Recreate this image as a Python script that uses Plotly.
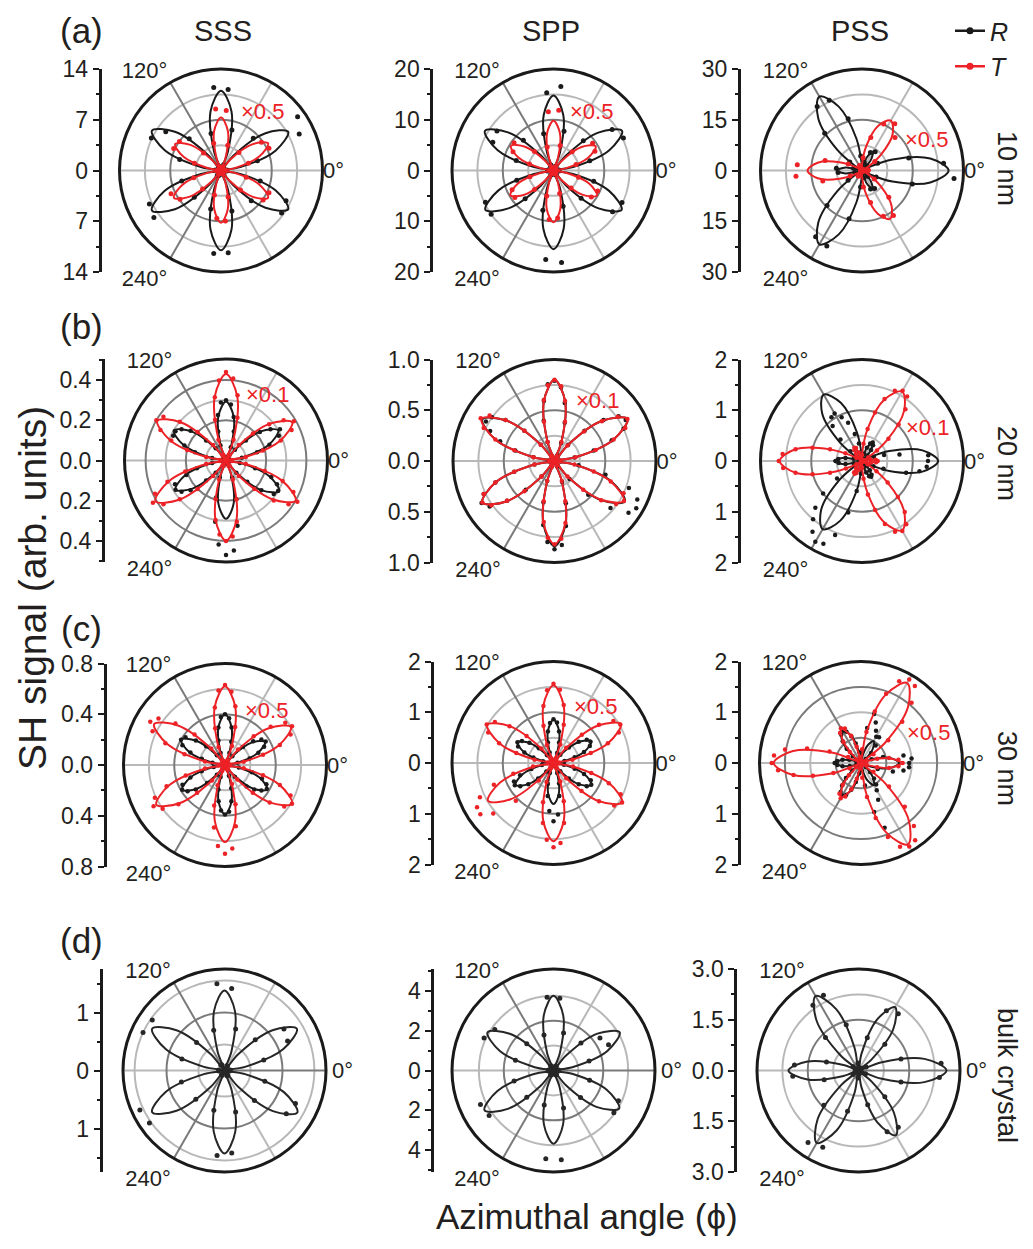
import plotly.graph_objects as go

W, H = 1033, 1249          # browser window / reference size
OX, OY = 8, 8              # default page margin around the plot div
FW, FH = W - 2 * OX, H - 2 * OY
RPX = 101.5
FONT = "Liberation Sans, Arial, Helvetica, sans-serif"
INK = "#231f20"
RED = "#ec2227"
BLACK = "#1a1a1a"
LIGHT = "#b8b8b8"
DARK = "#7a7a7a"

# ---------------- angle grids (deg) ----------------
fit_theta = list(range(0, 360, 10))
sparse_theta = list(range(5, 360, 10))
dense_theta = list(range(0, 360, 5))

# ---------------- (a) 10 nm ----------------
sss10_R_fit = [0, 2.7, 8.0, 10.7, 8.0, 2.7, 0, 2.8, 8.3, 11.0, 8.3, 2.8,
               0, 2.8, 8.3, 11.0, 8.3, 2.8, 0, 2.8, 8.3, 11.0, 8.3, 2.8,
               0, 2.8, 8.3, 11.0, 8.3, 2.8, 0, 2.7, 8.0, 10.7, 8.0, 2.7]
sss10_R_dots = [0.8, 5.2, 11.9, 12.9, 6.3, 0.6, 0.9, 5.8, 11.2, 11.5, 5.3, 0.7,
                0.6, 6.2, 9.3, 10.6, 5.9, 0.8, 0.7, 5.6, 10.9, 11.3, 5.2, 0.9,
                0.8, 5.5, 11.5, 11.4, 5.8, 0.6, 0.7, 5.9, 10.2, 9.9, 5.6, 0.8]
sss10_T_fit = [0, 1.9, 5.6, 7.5, 5.6, 1.9, 0, 1.8, 5.5, 7.3, 5.5, 1.8,
               0, 1.8, 5.5, 7.3, 5.5, 1.8, 0, 1.9, 5.6, 7.5, 5.6, 1.9,
               0, 1.8, 5.4, 7.2, 5.4, 1.8, 0, 1.9, 5.6, 7.5, 5.6, 1.9]
sss10_T_dots = [0.6, 3.9, 7.3, 6.8, 3.5, 0.4, 0.5, 3.6, 8.3, 8.5, 3.9, 0.6,
                0.4, 3.4, 7.0, 7.2, 3.8, 0.5, 0.6, 3.9, 7.6, 6.9, 3.6, 0.5,
                0.5, 3.5, 6.6, 7.0, 3.8, 0.4, 0.5, 3.8, 7.1, 7.3, 3.6, 0.6]

spp10_R_fit = [0, 3.9, 11.7, 15.6, 11.7, 3.9, 0, 3.7, 11.1, 14.8, 11.1, 3.7,
               0, 3.9, 11.7, 15.6, 11.7, 3.9, 0, 3.9, 11.6, 15.5, 11.6, 3.9,
               0, 3.9, 11.6, 15.5, 11.6, 3.9, 0, 3.9, 11.6, 15.5, 11.6, 3.9]
spp10_R_dots = [1.1, 7.4, 15.2, 14.1, 8.3, 0.9, 0.9, 8.0, 16.6, 15.4, 7.5, 1.2,
                1.0, 8.4, 13.6, 13.2, 7.6, 1.1, 1.2, 7.5, 14.8, 15.0, 7.9, 0.9,
                0.9, 8.1, 17.6, 18.2, 7.3, 1.0, 1.0, 7.7, 14.2, 14.9, 8.2, 1.1]
spp10_T_fit = [0, 2.4, 7.2, 9.6, 7.2, 2.4, 0, 2.5, 7.4, 9.8, 7.4, 2.5,
               0, 2.4, 7.3, 9.7, 7.3, 2.4, 0, 2.5, 7.4, 9.8, 7.4, 2.5,
               0, 2.6, 7.7, 10.2, 7.7, 2.6, 0, 2.5, 7.4, 9.9, 7.4, 2.5]
spp10_T_dots = [0.6, 4.6, 9.0, 9.4, 5.2, 0.7, 0.7, 5.1, 11.9, 11.6, 4.8, 0.6,
                0.6, 5.3, 9.5, 8.8, 4.9, 0.7, 0.7, 4.8, 9.0, 9.3, 5.3, 0.6,
                0.6, 5.2, 9.7, 9.4, 4.7, 0.7, 0.7, 4.9, 9.1, 9.6, 5.1, 0.6]

pss10_R_fit = [25.6, 20.5, 9.6, 1.4, 0.5, 4.1, 6.4, 4.1, 0.5, 1.4, 9.6, 20.1,
               25.2, 20.1, 9.6, 1.4, 0.5, 4.9, 7.5, 4.9, 0.5, 1.4, 9.6, 20.1,
               25.2, 20.1, 9.6, 1.4, 0.5, 4.0, 6.2, 4.0, 0.5, 1.4, 9.6, 20.5]
pss10_R_dots = [24.2, 14.3, 5.1, 0.1, 2.0, 6.8, 5.9, 2.5, 0.1, 4.3, 15.8, 22.9,
                23.1, 15.6, 4.4, 0.1, 2.6, 7.6, 7.1, 2.2, 0.1, 5.0, 14.6, 23.9,
                24.6, 14.8, 4.9, 0.1, 2.2, 6.0, 6.5, 2.4, 0.1, 4.6, 15.4, 27.3]
pss10_T_fit = [2.0, 1.1, 0.0, 1.7, 7.4, 14.1, 17.0, 14.1, 7.4, 1.7, 0.0, 1.1,
               2.0, 1.1, 0.0, 1.7, 7.1, 13.3, 16.1, 13.3, 7.1, 1.7, 0.0, 1.1,
               2.0, 1.1, 0.0, 1.7, 7.2, 13.6, 16.5, 13.6, 7.2, 1.7, 0.0, 1.1]
pss10_T_dots = [1.9, 0.5, 0.6, 4.6, 13.8, 16.9, 15.2, 10.1, 3.8, 0.5, 0.4, 1.6,
                1.5, 0.4, 0.5, 4.5, 11.3, 19.2, 19.6, 12.0, 3.9, 0.4, 0.5, 2.0,
                1.8, 0.3, 0.4, 4.9, 9.8, 14.9, 16.2, 11.2, 4.4, 0.6, 0.3, 1.7]

# ---------------- (b) 20 nm ----------------
sss20_R_fit = [0, 0.075, 0.225, 0.30, 0.225, 0.075, 0, 0.074, 0.221, 0.294, 0.221, 0.074,
               0, 0.075, 0.225, 0.30, 0.225, 0.075, 0, 0.073, 0.218, 0.29, 0.218, 0.073,
               0, 0.073, 0.218, 0.29, 0.218, 0.073, 0, 0.076, 0.229, 0.305, 0.229, 0.076]
sss20_R_dots = [0.00, 0.02, 0.08, 0.16, 0.23, 0.29, 0.31, 0.27, 0.22, 0.14, 0.07, 0.02,
                0.00, 0.02, 0.07, 0.15, 0.22, 0.28, 0.30, 0.29, 0.23, 0.15, 0.08, 0.02,
                0.00, 0.02, 0.08, 0.14, 0.23, 0.27, 0.29, 0.29, 0.22, 0.16, 0.07, 0.02,
                0.00, 0.02, 0.07, 0.15, 0.21, 0.28, 0.29, 0.27, 0.23, 0.14, 0.08, 0.02,
                0.00, 0.03, 0.09, 0.19, 0.31, 0.42, 0.47, 0.45, 0.33, 0.20, 0.09, 0.02,
                0.00, 0.02, 0.08, 0.15, 0.23, 0.29, 0.30, 0.28, 0.24, 0.15, 0.07, 0.02]
sss20_T_fit = [0, 0.095, 0.285, 0.38, 0.285, 0.095, 0, 0.108, 0.323, 0.43, 0.323, 0.108,
               0, 0.099, 0.296, 0.395, 0.296, 0.099, 0, 0.101, 0.304, 0.405, 0.304, 0.101,
               0, 0.10, 0.30, 0.40, 0.30, 0.10, 0, 0.10, 0.30, 0.40, 0.30, 0.10]
sss20_T_dots = [0.00, 0.03, 0.10, 0.19, 0.29, 0.36, 0.39, 0.35, 0.28, 0.19, 0.10, 0.03,
                0.00, 0.03, 0.11, 0.22, 0.33, 0.41, 0.44, 0.40, 0.32, 0.21, 0.11, 0.03,
                0.00, 0.03, 0.10, 0.20, 0.30, 0.38, 0.40, 0.36, 0.29, 0.20, 0.10, 0.03,
                0.00, 0.03, 0.10, 0.21, 0.31, 0.39, 0.42, 0.38, 0.30, 0.20, 0.10, 0.03,
                0.00, 0.03, 0.10, 0.20, 0.30, 0.37, 0.40, 0.38, 0.31, 0.20, 0.10, 0.03,
                0.00, 0.03, 0.10, 0.20, 0.31, 0.38, 0.41, 0.37, 0.30, 0.20, 0.10, 0.03]

spp20_R_fit = [0, 0.21, 0.62, 0.83, 0.62, 0.21, 0, 0.20, 0.60, 0.80, 0.60, 0.20,
               0, 0.21, 0.62, 0.82, 0.62, 0.21, 0, 0.21, 0.62, 0.82, 0.62, 0.21,
               0, 0.21, 0.63, 0.84, 0.63, 0.21, 0, 0.20, 0.60, 0.80, 0.60, 0.20]
spp20_R_dots = [0.00, 0.05, 0.20, 0.40, 0.60, 0.75, 0.81, 0.77, 0.63, 0.42, 0.21, 0.06,
                0.00, 0.06, 0.19, 0.39, 0.58, 0.73, 0.79, 0.76, 0.60, 0.41, 0.20, 0.05,
                0.00, 0.05, 0.21, 0.42, 0.63, 0.75, 0.78, 0.70, 0.57, 0.40, 0.21, 0.06,
                0.00, 0.05, 0.20, 0.41, 0.62, 0.77, 0.83, 0.78, 0.61, 0.40, 0.20, 0.05,
                0.00, 0.06, 0.21, 0.42, 0.64, 0.80, 0.87, 0.83, 0.65, 0.43, 0.22, 0.06,
                0.00, 0.06, 0.23, 0.47, 0.72, 0.89, 0.93, 0.90, 0.78, 0.52, 0.24, 0.06]
spp20_T_fit = [0, 0.21, 0.62, 0.83, 0.62, 0.21, 0, 0.20, 0.60, 0.80, 0.60, 0.20,
               0, 0.21, 0.62, 0.83, 0.62, 0.21, 0, 0.21, 0.62, 0.82, 0.62, 0.21,
               0, 0.21, 0.62, 0.82, 0.62, 0.21, 0, 0.20, 0.59, 0.79, 0.59, 0.20]
spp20_T_dots = [0.00, 0.06, 0.21, 0.42, 0.62, 0.77, 0.83, 0.76, 0.61, 0.41, 0.20, 0.05,
                0.00, 0.05, 0.20, 0.40, 0.60, 0.74, 0.80, 0.75, 0.61, 0.40, 0.20, 0.06,
                0.00, 0.06, 0.21, 0.42, 0.63, 0.78, 0.84, 0.77, 0.62, 0.41, 0.21, 0.05,
                0.00, 0.05, 0.20, 0.41, 0.62, 0.77, 0.82, 0.76, 0.61, 0.42, 0.20, 0.05,
                0.00, 0.06, 0.21, 0.41, 0.61, 0.76, 0.82, 0.77, 0.62, 0.41, 0.21, 0.05,
                0.00, 0.05, 0.20, 0.40, 0.60, 0.74, 0.79, 0.75, 0.59, 0.40, 0.20, 0.05]

pss20_R_fit = [1.50, 1.21, 0.57, 0.08, 0.04, 0.27, 0.41, 0.27, 0.04, 0.08, 0.57, 1.22,
               1.51, 1.22, 0.57, 0.08, 0.04, 0.36, 0.55, 0.36, 0.04, 0.08, 0.58, 1.25,
               1.55, 1.25, 0.58, 0.08, 0.04, 0.24, 0.36, 0.24, 0.04, 0.08, 0.57, 1.21]
pss20_R_dots = [1.30, 1.31, 0.75, 0.45, 0.25, 0.10, 0.03, 0.02, 0.05, 0.15, 0.28, 0.38,
                0.42, 0.38, 0.28, 0.15, 0.04, 0.01, 0.06, 0.18, 0.35, 0.55, 0.80, 0.95,
                1.08, 1.05, 0.90, 0.60, 0.30, 0.12, 0.04, 0.01, 0.05, 0.17, 0.33, 0.47,
                0.52, 0.46, 0.33, 0.17, 0.05, 0.02, 0.12, 0.60, 1.00, 1.30, 1.50, 1.70,
                1.84, 1.80, 1.55, 1.05, 0.60, 0.25, 0.05, 0.01, 0.05, 0.13, 0.24, 0.33,
                0.36, 0.33, 0.24, 0.13, 0.04, 0.01, 0.08, 0.25, 0.45, 0.90, 1.15, 1.28]
pss20_T_fit = [0.30, 0.18, 0.01, 0.13, 0.65, 1.29, 1.58, 1.29, 0.65, 0.13, 0.01, 0.18,
               0.30, 0.18, 0.01, 0.13, 0.67, 1.33, 1.62, 1.33, 0.67, 0.13, 0.01, 0.18,
               0.30, 0.18, 0.01, 0.13, 0.65, 1.29, 1.58, 1.29, 0.65, 0.13, 0.01, 0.18]
pss20_T_dots = [0.31, 0.27, 0.17, 0.08, 0.02, 0.03, 0.14, 0.36, 0.68, 1.02, 1.33, 1.55,
                1.60, 1.53, 1.30, 0.99, 0.64, 0.34, 0.12, 0.02, 0.01, 0.07, 0.18, 0.28,
                0.30, 0.26, 0.18, 0.09, 0.01, 0.02, 0.13, 0.36, 0.67, 1.01, 1.33, 1.57,
                1.64, 1.56, 1.33, 1.01, 0.67, 0.35, 0.13, 0.02, 0.01, 0.08, 0.18, 0.27,
                0.29, 0.26, 0.19, 0.08, 0.01, 0.02, 0.13, 0.35, 0.67, 1.00, 1.32, 1.54,
                1.59, 1.52, 1.31, 1.00, 0.66, 0.35, 0.13, 0.02, 0.01, 0.08, 0.18, 0.28]

# ---------------- (c) 30 nm ----------------
sss30_R_fit = [0, 0.091, 0.274, 0.365, 0.274, 0.091, 0, 0.10, 0.30, 0.40, 0.30, 0.10,
               0, 0.10, 0.30, 0.40, 0.30, 0.10, 0, 0.098, 0.293, 0.39, 0.293, 0.098,
               0, 0.098, 0.293, 0.39, 0.293, 0.098, 0, 0.096, 0.289, 0.385, 0.289, 0.096]
sss30_R_dots = [0.00, 0.03, 0.10, 0.20, 0.28, 0.34, 0.37, 0.35, 0.29, 0.20, 0.09, 0.03,
                0.00, 0.02, 0.10, 0.19, 0.30, 0.37, 0.40, 0.38, 0.30, 0.20, 0.10, 0.03,
                0.00, 0.03, 0.10, 0.21, 0.30, 0.38, 0.40, 0.37, 0.29, 0.19, 0.10, 0.02,
                0.00, 0.03, 0.09, 0.19, 0.29, 0.37, 0.39, 0.36, 0.30, 0.20, 0.10, 0.03,
                0.00, 0.02, 0.10, 0.20, 0.29, 0.36, 0.39, 0.37, 0.29, 0.19, 0.09, 0.02,
                0.00, 0.03, 0.12, 0.24, 0.30, 0.35, 0.38, 0.36, 0.31, 0.22, 0.11, 0.03]
sss30_T_fit = [0, 0.15, 0.45, 0.60, 0.45, 0.15, 0, 0.155, 0.465, 0.62, 0.465, 0.155,
               0, 0.161, 0.484, 0.645, 0.484, 0.161, 0, 0.156, 0.469, 0.625, 0.469, 0.156,
               0, 0.152, 0.455, 0.607, 0.455, 0.152, 0, 0.153, 0.458, 0.61, 0.458, 0.153]
sss30_T_dots = [0.00, 0.04, 0.15, 0.31, 0.46, 0.57, 0.61, 0.58, 0.47, 0.32, 0.16, 0.04,
                0.00, 0.04, 0.16, 0.31, 0.47, 0.58, 0.63, 0.59, 0.46, 0.30, 0.15, 0.04,
                0.00, 0.04, 0.17, 0.34, 0.51, 0.64, 0.68, 0.63, 0.50, 0.33, 0.16, 0.04,
                0.00, 0.05, 0.16, 0.32, 0.49, 0.61, 0.65, 0.60, 0.48, 0.31, 0.16, 0.04,
                0.00, 0.05, 0.17, 0.33, 0.50, 0.64, 0.70, 0.66, 0.49, 0.32, 0.16, 0.04,
                0.00, 0.04, 0.15, 0.31, 0.46, 0.57, 0.61, 0.57, 0.46, 0.31, 0.15, 0.04]

spp30_R_fit = [0, 0.215, 0.645, 0.86, 0.645, 0.215, 0, 0.213, 0.638, 0.85, 0.638, 0.213,
               0, 0.205, 0.615, 0.82, 0.615, 0.205, 0, 0.216, 0.649, 0.865, 0.649, 0.216,
               0, 0.203, 0.608, 0.81, 0.608, 0.203, 0, 0.216, 0.649, 0.865, 0.649, 0.216]
spp30_R_dots = [0.00, 0.06, 0.22, 0.43, 0.64, 0.79, 0.84, 0.80, 0.65, 0.43, 0.21, 0.06,
                0.00, 0.05, 0.21, 0.42, 0.63, 0.80, 0.86, 0.79, 0.63, 0.42, 0.22, 0.06,
                0.00, 0.06, 0.20, 0.41, 0.62, 0.76, 0.82, 0.77, 0.61, 0.41, 0.21, 0.05,
                0.00, 0.06, 0.23, 0.45, 0.70, 0.86, 0.88, 0.80, 0.65, 0.43, 0.22, 0.06,
                0.00, 0.06, 0.21, 0.43, 0.66, 0.95, 1.15, 1.02, 0.66, 0.42, 0.21, 0.06,
                0.00, 0.06, 0.21, 0.43, 0.65, 0.80, 0.86, 0.81, 0.64, 0.43, 0.21, 0.05]
spp30_T_fit = [0, 0.38, 1.15, 1.53, 1.15, 0.38, 0, 0.38, 1.15, 1.53, 1.15, 0.38,
               0, 0.38, 1.13, 1.51, 1.13, 0.38, 0, 0.37, 1.12, 1.49, 1.12, 0.37,
               0, 0.39, 1.16, 1.54, 1.16, 0.39, 0, 0.39, 1.17, 1.56, 1.17, 0.39]
spp30_T_dots = [0.00, 0.10, 0.38, 0.76, 1.14, 1.42, 1.52, 1.44, 1.17, 0.79, 0.39, 0.10,
                0.00, 0.10, 0.39, 0.78, 1.16, 1.45, 1.56, 1.44, 1.14, 0.76, 0.38, 0.10,
                0.00, 0.10, 0.37, 0.75, 1.13, 1.41, 1.52, 1.42, 1.14, 0.76, 0.38, 0.10,
                0.00, 0.11, 0.41, 0.82, 1.25, 1.60, 1.74, 1.76, 1.55, 1.05, 0.45, 0.11,
                0.00, 0.11, 0.40, 0.80, 1.20, 1.52, 1.66, 1.58, 1.20, 0.78, 0.39, 0.10,
                0.00, 0.10, 0.39, 0.78, 1.17, 1.46, 1.56, 1.46, 1.16, 0.77, 0.39, 0.10]

pss30_R_fit = [0.75, 0.58, 0.22, 0.01, 0.10, 0.36, 0.50, 0.36, 0.10, 0.01, 0.22, 0.58,
               0.75, 0.58, 0.22, 0.01, 0.10, 0.36, 0.50, 0.36, 0.10, 0.01, 0.22, 0.58,
               0.75, 0.58, 0.22, 0.01, 0.10, 0.36, 0.50, 0.36, 0.10, 0.01, 0.22, 0.58]
pss30_R_dots = [0.95, 1.00, 0.85, 0.45, 0.22, 0.08, 0.02, 0.03, 0.12, 0.28, 0.45, 0.62,
                0.60, 0.70, 0.85, 1.00, 0.70, 0.20, 0.02, 0.08, 0.22, 0.40, 0.56, 0.68,
                0.72, 0.68, 0.56, 0.40, 0.21, 0.08, 0.01, 0.02, 0.10, 0.24, 0.37, 0.47,
                0.52, 0.47, 0.37, 0.23, 0.10, 0.02, 0.01, 0.08, 0.23, 0.42, 0.58, 0.70,
                0.74, 0.69, 0.56, 0.39, 0.21, 0.08, 0.02, 0.15, 0.45, 1.00, 1.36, 0.80,
                0.62, 0.52, 0.40, 0.25, 0.12, 0.03, 0.01, 0.10, 0.35, 0.65, 0.85, 0.95]
pss30_T_fit = [0.80, 0.55, 0.11, 0.05, 0.62, 1.44, 1.82, 1.44, 0.62, 0.05, 0.11, 0.55,
               0.78, 0.54, 0.11, 0.05, 0.59, 1.36, 1.72, 1.36, 0.59, 0.05, 0.11, 0.55,
               0.78, 0.55, 0.11, 0.05, 0.63, 1.46, 1.85, 1.46, 0.63, 0.05, 0.11, 0.56]
pss30_T_dots = [0.82, 0.74, 0.56, 0.33, 0.12, 0.01, 0.06, 0.30, 0.70, 1.15, 1.55, 1.85,
                1.90, 1.78, 1.45, 1.05, 0.62, 0.27, 0.06, 0.01, 0.12, 0.33, 0.57, 0.75,
                0.79, 0.72, 0.54, 0.31, 0.11, 0.01, 0.05, 0.28, 0.66, 1.10, 1.52, 1.72,
                1.76, 1.64, 1.35, 0.98, 0.58, 0.25, 0.05, 0.01, 0.12, 0.34, 0.56, 0.74,
                0.80, 0.73, 0.55, 0.32, 0.11, 0.01, 0.06, 0.29, 0.68, 1.12, 1.55, 1.82,
                1.90, 1.86, 1.62, 1.22, 0.72, 0.30, 0.06, 0.01, 0.12, 0.33, 0.56, 0.74]

# ---------------- (d) bulk crystal ----------------
sssb_R_fit = [0, 0.36, 1.08, 1.44, 1.08, 0.36, 0, 0.35, 1.04, 1.38, 1.04, 0.35,
              0, 0.36, 1.08, 1.44, 1.08, 0.36, 0, 0.36, 1.08, 1.44, 1.08, 0.36,
              0, 0.36, 1.07, 1.43, 1.07, 0.36, 0, 0.36, 1.09, 1.45, 1.09, 0.36]
sssb_R_dots = [0.10, 0.70, 1.20, 1.25, 0.75, 0.09, 0.09, 0.74, 1.42, 1.50, 0.72, 0.11,
               0.11, 0.68, 1.52, 1.55, 0.76, 0.10, 0.10, 0.77, 1.61, 1.58, 0.70, 0.09,
               0.09, 0.71, 1.47, 1.43, 0.74, 0.10, 0.10, 0.73, 1.30, 1.35, 0.72, 0.09]
sppb_R_fit = [0, 0.96, 2.88, 3.84, 2.88, 0.96, 0, 0.94, 2.81, 3.75, 2.81, 0.94,
              0, 0.96, 2.87, 3.83, 2.87, 0.96, 0, 1.00, 3.00, 4.00, 3.00, 1.00,
              0, 0.92, 2.76, 3.68, 2.76, 0.92, 0, 0.95, 2.86, 3.81, 2.86, 0.95]
sppb_R_dots = [0.26, 1.85, 3.05, 2.85, 1.95, 0.24, 0.25, 1.95, 3.65, 3.70, 1.85, 0.27,
               0.24, 1.90, 3.60, 3.85, 1.98, 0.25, 0.27, 2.05, 4.05, 3.95, 1.90, 0.26,
               0.25, 1.80, 4.45, 4.50, 1.95, 0.24, 0.26, 1.92, 3.70, 3.60, 1.88, 0.25]
pssb_R_fit = [2.60, 1.98, 0.70, 0.00, 0.49, 1.60, 2.16, 1.60, 0.49, 0.00, 0.69, 1.93,
              2.54, 1.93, 0.69, 0.00, 0.47, 1.53, 2.07, 1.53, 0.47, 0.00, 0.67, 1.88,
              2.47, 1.88, 0.67, 0.00, 0.50, 1.63, 2.21, 1.63, 0.50, 0.00, 0.70, 1.98]
pssb_R_dots = [2.45, 1.30, 0.25, 0.12, 1.10, 2.05, 1.95, 1.00, 0.10, 0.22, 1.40, 2.45,
               2.35, 1.38, 0.20, 0.10, 0.98, 1.90, 1.95, 1.05, 0.12, 0.20, 1.45, 2.60,
               2.50, 1.25, 0.22, 0.11, 1.05, 2.00, 2.05, 1.10, 0.10, 0.23, 1.30, 2.40]

# ---------------- text ----------------
column_titles = ["SSS", "SPP", "PSS"]
row_titles = ["10 nm", "20 nm", "30 nm", "bulk crystal"]
panel_letters = ["(a)", "(b)", "(c)", "(d)"]

# ---------------- panel specs (layout + references to data) ----------------
panels = [
    dict(cx=221, cy=170.5, bx=101.7, rmax=14, tv=[-14, -7, 0, 7, 14], tt=["14", "7", "0", "7", "14"],
         mv=[-10.5, -3.5, 3.5, 10.5], light=[3.5, 10.5], dark=[7],
         R=(sss10_R_fit, sss10_R_dots, sparse_theta), T=(sss10_T_fit, sss10_T_dots, sparse_theta),
         factor="×0.5", fx=262, fy=111, bulk=False),
    dict(cx=553.5, cy=170.5, bx=433.3, rmax=20, tv=[-20, -10, 0, 10, 20], tt=["20", "10", "0", "10", "20"],
         mv=[-15, -5, 5, 15], light=[5, 15], dark=[10],
         R=(spp10_R_fit, spp10_R_dots, sparse_theta), T=(spp10_T_fit, spp10_T_dots, sparse_theta),
         factor="×0.5", fx=591, fy=112, bulk=False),
    dict(cx=862, cy=170.5, bx=741, rmax=30, tv=[-30, -15, 0, 15, 30], tt=["30", "15", "0", "15", "30"],
         mv=[-22.5, -7.5, 7.5, 22.5], light=[7.5, 22.5], dark=[15],
         R=(pss10_R_fit, pss10_R_dots, sparse_theta), T=(pss10_T_fit, pss10_T_dots, sparse_theta),
         factor="×0.5", fx=926, fy=139, bulk=False),
    dict(cx=226, cy=460.5, bx=105, rmax=0.505, tv=[-0.4, -0.2, 0, 0.2, 0.4], tt=["0.4", "0.2", "0.0", "0.2", "0.4"],
         mv=[-0.5, -0.3, -0.1, 0.1, 0.3, 0.5], light=[0.1, 0.3], dark=[0.2, 0.4],
         R=(sss20_R_fit, sss20_R_dots, dense_theta), T=(sss20_T_fit, sss20_T_dots, dense_theta),
         factor="×0.1", fx=267, fy=395, bulk=False),
    dict(cx=554.5, cy=461, bx=433.3, rmax=1.0, tv=[-1, -0.5, 0, 0.5, 1], tt=["1.0", "0.5", "0.0", "0.5", "1.0"],
         mv=[-0.75, -0.25, 0.25, 0.75], light=[0.25, 0.75], dark=[0.5],
         R=(spp20_R_fit, spp20_R_dots, dense_theta), T=(spp20_T_fit, spp20_T_dots, dense_theta),
         factor="×0.1", fx=597, fy=401, bulk=False),
    dict(cx=862, cy=461, bx=741, rmax=2.0, tv=[-2, -1, 0, 1, 2], tt=["2", "1", "0", "1", "2"],
         mv=[-1.5, -0.5, 0.5, 1.5], light=[0.5, 1.5], dark=[1.0],
         R=(pss20_R_fit, pss20_R_dots, dense_theta), T=(pss20_T_fit, pss20_T_dots, dense_theta),
         factor="×0.1", fx=927, fy=427, bulk=False),
    dict(cx=225, cy=765, bx=106.7, rmax=0.8, tv=[-0.8, -0.4, 0, 0.4, 0.8], tt=["0.8", "0.4", "0.0", "0.4", "0.8"],
         mv=[-0.6, -0.2, 0.2, 0.6], light=[0.2, 0.6], dark=[0.4],
         R=(sss30_R_fit, sss30_R_dots, dense_theta), T=(sss30_T_fit, sss30_T_dots, dense_theta),
         factor="×0.5", fx=266, fy=710, bulk=False),
    dict(cx=553.5, cy=763, bx=434.3, rmax=2.0, tv=[-2, -1, 0, 1, 2], tt=["2", "1", "0", "1", "2"],
         mv=[-1.5, -0.5, 0.5, 1.5], light=[0.5, 1.5], dark=[1.0],
         R=(spp30_R_fit, spp30_R_dots, dense_theta), T=(spp30_T_fit, spp30_T_dots, dense_theta),
         factor="×0.5", fx=595, fy=706, bulk=False),
    dict(cx=861, cy=763, bx=741, rmax=2.0, tv=[-2, -1, 0, 1, 2], tt=["2", "1", "0", "1", "2"],
         mv=[-1.5, -0.5, 0.5, 1.5], light=[1.0], dark=[0.5, 1.5],
         R=(pss30_R_fit, pss30_R_dots, dense_theta), T=(pss30_T_fit, pss30_T_dots, dense_theta),
         factor="×0.5", fx=928, fy=732, bulk=False),
    dict(cx=224.5, cy=1070.5, bx=102.7, rmax=1.75, tv=[-1, 0, 1], tt=["1", "0", "1"],
         mv=[-1.5, -0.5, 0.5, 1.5], light=[0.45, 1.55], dark=[1.0],
         R=(sssb_R_fit, sssb_R_dots, sparse_theta), T=None, factor=None, bulk=True),
    dict(cx=553.5, cy=1070.5, bx=434.3, rmax=5.1, tv=[-4, -2, 0, 2, 4], tt=["4", "2", "0", "2", "4"],
         mv=[-5, -3, -1, 1, 3, 5], light=[1.25, 3.75], dark=[2.5],
         R=(sppb_R_fit, sppb_R_dots, sparse_theta), T=None, factor=None, bulk=True),
    dict(cx=858.5, cy=1070.5, bx=737.3, rmax=3.0, tv=[-3, -1.5, 0, 1.5, 3], tt=["3.0", "1.5", "0.0", "1.5", "3.0"],
         mv=[-2.25, -0.75, 0.75, 2.25], light=[0.75, 2.25], dark=[1.5],
         R=(pssb_R_fit, pssb_R_dots, sparse_theta), T=None, factor=None, bulk=True),
]


def fx(X):
    return (X - OX) / FW


def fy(Y):
    return 1 - (Y - OY) / FH


fig = go.Figure()
N = len(panels)
layout = {}


def pid(k):
    return "polar" if k == 1 else f"polar{k}"


def axid(k, letter):
    return f"{letter}axis" if k == 1 else f"{letter}axis{k}"


def axref(k, letter):
    return letter if k == 1 else f"{letter}{k}"


# background polar subplots (light grid) created first so they sit underneath
for i, p in enumerate(panels):
    fig.add_trace(go.Scatterpolar(r=[None], theta=[None], mode="markers", subplot=pid(i + 1),
                                  showlegend=False, hoverinfo="skip"))

for i, p in enumerate(panels):
    k_bg = i + 1
    k_top = i + 1 + N
    x0, x1 = fx(p["cx"] - RPX), fx(p["cx"] + RPX)
    y0, y1 = fy(p["cy"] + RPX), fy(p["cy"] - RPX)

    if p["bulk"]:
        light_sp, light_tx = [60, 180, 300], ["", "", ""]
        dark_sp, dark_tx = [0, 120, 240], ["0°", "120°", "240°"]
    else:
        light_sp, light_tx = [0, 60, 180, 300], ["0°", "", "", ""]
        dark_sp, dark_tx = [120, 240], ["120°", "240°"]

    tickfont = dict(size=22, color=INK, family=FONT)
    layout[pid(k_bg)] = dict(
        domain=dict(x=[x0, x1], y=[y0, y1]), bgcolor="rgba(0,0,0,0)",
        radialaxis=dict(range=[0, p["rmax"]], tickvals=p["light"], showticklabels=False, ticks="",
                        showline=False, gridcolor=LIGHT, gridwidth=2),
        angularaxis=dict(tickvals=light_sp, ticktext=light_tx, ticks="", showline=False,
                         gridcolor=LIGHT, gridwidth=2, tickfont=tickfont),
    )
    layout[pid(k_top)] = dict(
        domain=dict(x=[x0, x1], y=[y0, y1]), bgcolor="rgba(0,0,0,0)",
        radialaxis=dict(range=[0, p["rmax"]], tickvals=p["dark"], showticklabels=False, ticks="",
                        showline=False, gridcolor=DARK, gridwidth=2),
        angularaxis=dict(tickvals=dark_sp, ticktext=dark_tx, ticks="", showline=True,
                         linecolor=BLACK, linewidth=3, gridcolor=DARK, gridwidth=2, tickfont=tickfont),
    )

    series = [(p["R"], "#262626" if p["bulk"] else BLACK)]
    if p["T"] is not None:
        series.append((p["T"], RED))
    dot_size = 5 if p["R"][2] is sparse_theta else 4.5
    for (fit, dots, dth), col in series:
        fig.add_trace(go.Scatterpolar(r=fit + fit[:1], theta=fit_theta + [360], mode="lines",
                                      line=dict(color=col, width=2, shape="spline", smoothing=1),
                                      subplot=pid(k_top), showlegend=False, hoverinfo="skip"))
        fig.add_trace(go.Scatterpolar(r=dots, theta=dth, mode="markers",
                                      marker=dict(color=col, size=dot_size, line=dict(width=0)),
                                      subplot=pid(k_top), showlegend=False, hoverinfo="skip"))

    # left scale bar (cartesian y axis)
    xa, ya = axid(i + 1, "x"), axid(i + 1, "y")
    layout[xa] = dict(domain=[fx(p["bx"]), fx(p["bx"]) + 0.004], visible=False, range=[0, 1],
                      fixedrange=True, anchor=axref(i + 1, "y"), automargin=False)
    layout[ya] = dict(domain=[y0, y1], anchor=axref(i + 1, "x"), side="left", range=[-p["rmax"], p["rmax"]],
                      tickmode="array", tickvals=p["tv"], ticktext=p["tt"], automargin=False,
                      showline=True, linewidth=3, linecolor=BLACK, ticks="outside", ticklen=6,
                      tickwidth=2, tickcolor=BLACK, showgrid=False, zeroline=False, fixedrange=True,
                      tickfont=dict(size=23, color=INK, family=FONT),
                      minor=dict(tickvals=p["mv"], ticks="outside", ticklen=3, tickwidth=1.5,
                                 tickcolor=BLACK, showgrid=False))
    fig.add_trace(go.Scatter(x=[None], y=[None], xaxis=axref(i + 1, "x"), yaxis=axref(i + 1, "y"),
                             showlegend=False, hoverinfo="skip"))

# legend entries
for name, col in [("<i>R</i>", BLACK), ("<i>T</i>", RED)]:
    fig.add_trace(go.Scatterpolar(r=[None], theta=[None], mode="lines+markers", name=name,
                                  line=dict(color=col, width=2.5), marker=dict(color=col, size=7),
                                  subplot=pid(3 + N), showlegend=True, hoverinfo="skip"))

annotations = []


def ann(text, x, y, size, color=INK, angle=0):
    annotations.append(dict(text=text, x=fx(x), y=fy(y), xref="paper", yref="paper",
                            xanchor="center", yanchor="middle", showarrow=False, textangle=angle,
                            font=dict(size=size, color=color, family=FONT)))


for t, x in zip(column_titles, [223, 551, 860]):
    ann(t, x, 31, 29)
for t, y in zip(row_titles, [168, 463, 768, 1075]):
    ann(t, 1007, y, 27, angle=90)
for t, y in zip(panel_letters, [30, 326, 628, 940]):
    ann(t, 81, y, 35)
for p in panels:
    if p["factor"]:
        ann(p["factor"], p["fx"], p["fy"], 22, color=RED)
ann("SH signal (arb. units)", 32, 588, 39, angle=-90)
ann("Azimuthal angle (ϕ)", 587, 1216, 35)

layout.update(dict(
    width=FW, height=FH, margin=dict(l=0, r=0, t=0, b=0, pad=0, autoexpand=False), autosize=False,
    paper_bgcolor="white", plot_bgcolor="rgba(0,0,0,0)",
    font=dict(family=FONT, color=INK),
    annotations=annotations,
    showlegend=True,
    legend=dict(x=fx(950), y=fy(8), xanchor="left", yanchor="top", bgcolor="rgba(0,0,0,0)",
                font=dict(size=25, color=INK, family=FONT), tracegroupgap=0, itemwidth=30),
))
fig.update_layout(layout)
fig.write_html("out.html")
